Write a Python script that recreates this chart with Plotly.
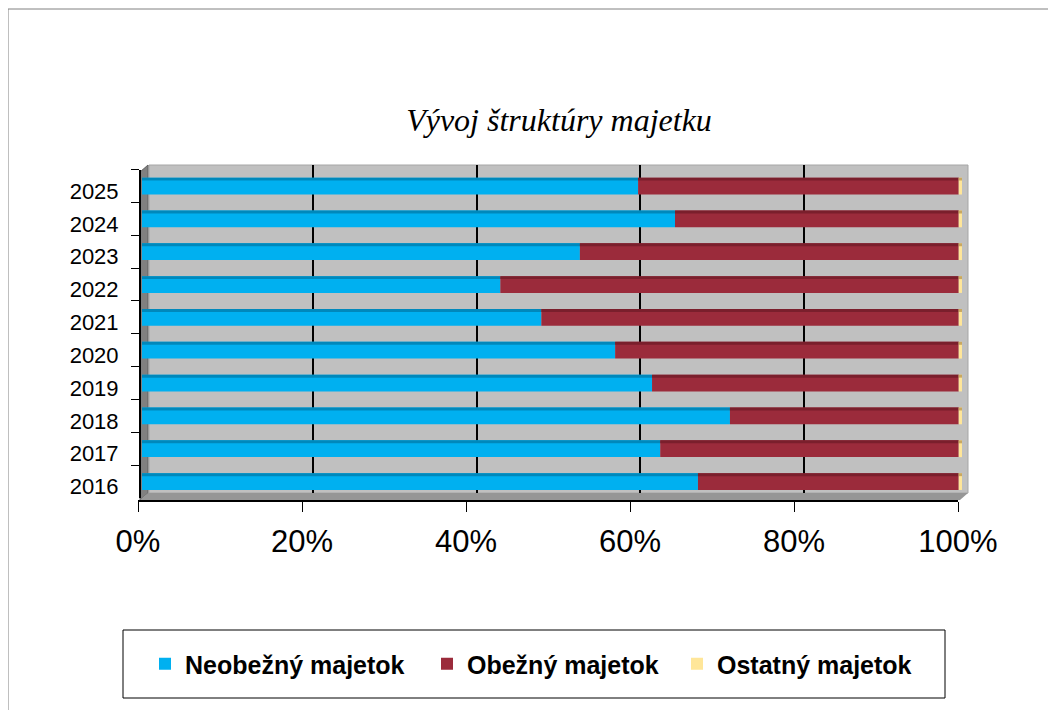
import plotly.graph_objects as go

W, H = 1056, 710
# the page is drawn with the body's 8px margin, so reference pixels are shifted by that
OFF = 8

years = ["2016", "2017", "2018", "2019", "2020", "2021", "2022", "2023", "2024", "2025"]
neobezny = [67.8, 63.2, 71.7, 62.2, 57.7, 48.7, 43.7, 53.4, 65.0, 60.5]
obezny = [31.8, 36.4, 27.9, 37.4, 41.9, 50.9, 55.9, 46.2, 34.6, 39.1]
ostatny = [0.4, 0.4, 0.4, 0.4, 0.4, 0.4, 0.4, 0.4, 0.4, 0.4]

pct_vals = [0, 20, 40, 60, 80, 100]
pct_text = ["0%", "20%", "40%", "60%", "80%", "100%"]

series = [
    ("Neobežný majetok", neobezny, "#00b0f0", "#0088bb", "legend", 145),
    ("Obežný majetok", obezny, "#9b2b3b", "#7a1f2c", "legend2", 427),
    ("Ostatný majetok", ostatny, "#ffe699", "#c9a860", "legend3", 677),
]


def fx(p):
    return (p - OFF) / W


def fy(p):
    return 1 - (p - OFF) / H


def path(points):
    return "M " + " L ".join(f"{fx(a):.5f},{fy(b):.5f}" for a, b in points) + " Z"


fig = go.Figure()

# empty traces so the back wall and front axis subplots exist
fig.add_trace(go.Scatter(x=[None], y=[None], xaxis="x", yaxis="y", showlegend=False, hoverinfo="skip"))
fig.add_trace(go.Scatter(x=[None], y=[None], xaxis="x3", yaxis="y3", showlegend=False, hoverinfo="skip"))

bar_w = 0.51
strip_w = 0.09
base = [0.0] * len(years)
legends = {}
for name, vals, col, dark, leg, leg_x in series:
    fig.add_trace(go.Bar(
        y=years, x=vals, base=base, orientation="h", name=name, legend=leg,
        width=bar_w, offset=-bar_w / 2, marker=dict(color=col, line=dict(width=0)),
        xaxis="x2", yaxis="y2",
    ))
    fig.add_trace(go.Bar(
        y=years, x=vals, base=base, orientation="h", showlegend=False,
        width=strip_w, offset=bar_w / 2 - strip_w, marker=dict(color=dark, line=dict(width=0)),
        xaxis="x2", yaxis="y2", hoverinfo="skip",
    ))
    base = [b + v for b, v in zip(base, vals)]
    legends[leg] = dict(
        orientation="h", x=fx(leg_x), xanchor="left", y=fy(664), yanchor="middle",
        bgcolor="rgba(0,0,0,0)", borderwidth=0,
        font=dict(family="Liberation Sans, Arial, sans-serif", size=25, color="black", weight="bold"),
    )

shapes = [
    # outer chart frame
    dict(type="rect", xref="paper", yref="paper", x0=fx(8), x1=fx(1080), y0=fy(740), y1=fy(9),
         line=dict(color="#808080", width=1), layer="below"),
    # back wall
    dict(type="rect", xref="paper", yref="paper", x0=fx(149), x1=fx(968), y0=fy(493), y1=fy(165),
         fillcolor="#c0c0c0", line=dict(color="#a6a6a6", width=1), layer="below"),
    # left wall
    dict(type="path", xref="paper", yref="paper",
         path=path([(140, 172), (148, 165), (148, 493), (140, 500)]),
         fillcolor="#808080", line=dict(color="#606060", width=1), layer="below"),
    # floor
    dict(type="path", xref="paper", yref="paper",
         path=path([(140, 500), (148, 493), (968, 493), (960, 500)]),
         fillcolor="#969696", line=dict(width=0), layer="below"),
    # legend frame
    dict(type="rect", xref="paper", yref="paper", x0=fx(123), x1=fx(945), y0=fy(698), y1=fy(630),
         fillcolor="white", line=dict(color="black", width=1), layer="below"),
]

fig.update_layout(
    width=W, height=H,
    margin=dict(l=0, r=0, t=0, b=0, autoexpand=False),
    paper_bgcolor="white",
    plot_bgcolor="rgba(0,0,0,0)",
    barmode="overlay",
    shapes=shapes,
    title=dict(
        text="Vývoj štruktúry majetku",
        x=fx(559), xanchor="center", y=fy(120), yanchor="middle", xref="paper", yref="paper",
        font=dict(family="Liberation Serif, Times New Roman, serif", size=32, style="italic", color="black"),
    ),
    # back wall grid
    xaxis=dict(domain=[fx(149), fx(968)], range=[0, 100], tickvals=pct_vals, showticklabels=False,
               showgrid=True, gridcolor="black", gridwidth=2, zeroline=False, ticks="", anchor="y",
               fixedrange=True),
    yaxis=dict(domain=[fy(493), fy(165)], range=[0, 1], visible=False, anchor="x"),
    # bars
    xaxis2=dict(domain=[fx(142), fx(962)], range=[0, 100], visible=False, anchor="y2"),
    yaxis2=dict(domain=[fy(498), fy(169.6)], type="category", categoryorder="array",
                categoryarray=years, range=[-0.5, len(years) - 0.5],
                anchor="free", position=fx(140), showline=True, linecolor="black", linewidth=2,
                showgrid=False, zeroline=False, tickson="boundaries", ticks="outside", ticklen=8,
                tickcolor="black", tickwidth=1, ticklabelshift=5, ticklabelstandoff=16,
                tickfont=dict(family="Liberation Sans, Arial, sans-serif", size=22, color="black")),
    # front axis with percent labels
    xaxis3=dict(domain=[fx(138), fx(958)], range=[0, 100], tickvals=pct_vals, ticktext=pct_text,
                anchor="y3", showline=True, linecolor="black", linewidth=2, showgrid=False,
                zeroline=False, ticks="outside", ticklen=10, tickcolor="black", tickwidth=1,
                ticklabelstandoff=3,
                tickfont=dict(family="Liberation Sans, Arial, sans-serif", size=31, color="black")),
    yaxis3=dict(domain=[fy(500), fy(499)], range=[0, 1], visible=False, anchor="x3"),
    showlegend=True,
    **legends,
)

fig.write_html("out.html")
